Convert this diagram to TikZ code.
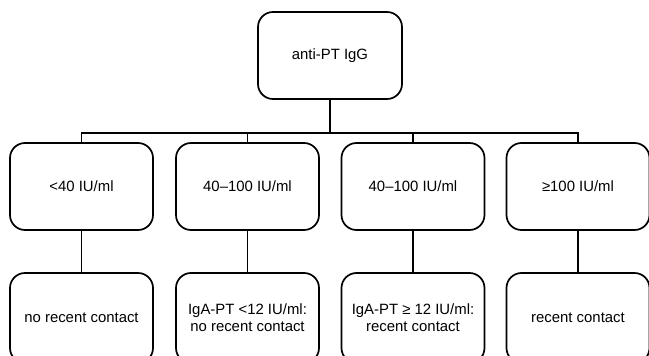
\documentclass[tikz,border=0pt]{standalone}
\usepackage{fontspec}
\setmainfont{Liberation Sans}
\begin{document}
\begin{tikzpicture}[x=1pt,y=-1pt,
  box/.style={draw=black,line width=1.7pt,rounded corners=15pt,minimum width=143pt,minimum height=87pt,align=center,inner sep=2pt,
    font=\fontsize{14.9}{17}\selectfont},
  link/.style={draw=black,line width=1.8pt}]
\useasboundingbox (0,0) rectangle (649,356);
\clip (0,0) rectangle (649,356);
\fill[white] (0,0) rectangle (649,356);
\node[box,minimum width=144pt] (top) at (330,55.5) {anti-PT IgG};
\node[box] (m1) at (81.5,186.5) {<40 IU/ml};
\node[box] (m2) at (247.5,186.5) {40–100 IU/ml};
\node[box] (m3) at (413,186.5) {40–100 IU/ml};
\node[box] (m4) at (578,186.5) {≥100 IU/ml};
\node[box,minimum height=90pt] (b1) at (81.5,318) {no recent contact};
\node[box,minimum height=90pt] (b2) at (247.5,318) {IgA-PT <12 IU/ml:\\no recent contact};
\node[box,minimum height=90pt] (b3) at (413,318) {IgA-PT ≥ 12 IU/ml:\\recent contact};
\node[box,minimum height=90pt] (b4) at (578,318) {recent contact};
\coordinate (bar) at (330,133);
\draw[link] (top.south) -- (bar);
\draw[link] (m1.north) -- (m1.north |- bar) -- (m4.north |- bar) -- (m4.north);
\draw[link] (m2.north) -- (m2.north |- bar);
\draw[link] (m3.north) -- (m3.north |- bar);
\draw[link] (m1.south) -- (b1.north);
\draw[link] (m2.south) -- (b2.north);
\draw[link] (m3.south) -- (b3.north);
\draw[link] (m4.south) -- (b4.north);
\end{tikzpicture}
\end{document}
